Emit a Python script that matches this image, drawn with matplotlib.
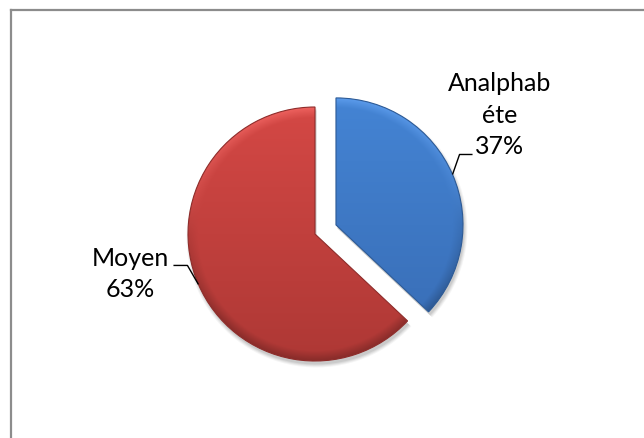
import numpy as np
import matplotlib
matplotlib.use('Agg')
import matplotlib.pyplot as plt
from matplotlib.lines import Line2D
from matplotlib.patches import Wedge

plt.rcParams['font.family'] = ['Lato', 'DejaVu Sans']

# data
labels = ['Analphab\néte', 'Moyen']
shares = [37, 63]
top_colors = ['#4484D4', '#D44845']
bottom_colors = ['#386CB4', '#AE3835']
edge_colors = ['#2C5A96', '#8E2C2A']

W, H = 644, 438


def hex_rgb(h):
    return np.array([int(h[i:i + 2], 16) for i in (1, 3, 5)]) / 255.0


def shade_wedge(ax, wedge, top, bottom):
    cx, cy = wedge.center
    r = wedge.r
    n = 300
    xs = np.linspace(cx - r, cx + r, n)
    ys = np.linspace(cy - r, cy + r, n)
    X, Y = np.meshgrid(xs, ys)
    t = (Y - (cy - r)) / (2 * r)
    c_top, c_bot = hex_rgb(top), hex_rgb(bottom)
    img = c_bot[None, None, :] * (1 - t[..., None]) + c_top[None, None, :] * t[..., None]
    # soft bevel near the rim
    d = np.hypot(X - cx, Y - cy) / r
    rim = np.clip((d - 0.92) / 0.08, 0, 1)[..., None]
    up = ((Y - cy) / r)[..., None]
    img = img * (1 - 0.22 * rim * np.clip(-up + 0.3, 0, 1)) + 0.10 * rim * np.clip(up, 0, 1)
    img = np.clip(img, 0, 1)
    im = ax.imshow(img, extent=[cx - r, cx + r, cy - r, cy + r], origin='lower',
                   zorder=2, interpolation='bilinear')
    im.set_clip_path(wedge)


fig = plt.figure(figsize=(W / 100, H / 100), dpi=100)
ax = fig.add_axes([0, 0, 1, 1])

center = (315, H - 234)
radius = 127
wedges, _ = ax.pie(shares, explode=[0.18 * radius, 0], startangle=90, counterclock=False,
                   center=center, radius=radius, colors=top_colors,
                   wedgeprops=dict(linewidth=0))

# soft shadow
for w in wedges:
    for k, a in enumerate([0.04, 0.05, 0.06, 0.07]):
        sh = Wedge((w.center[0] + 1.5, w.center[1] - 3.5), w.r + 3 - k,
                   w.theta1, w.theta2, facecolor='black', alpha=a,
                   linewidth=0, zorder=1)
        ax.add_patch(sh)

for w, tc, bc, ec in zip(wedges, top_colors, bottom_colors, edge_colors):
    shade_wedge(ax, w, tc, bc)
    w.set_facecolor('none')
    w.set_edgecolor(ec)
    w.set_linewidth(0.8)
    w.set_zorder(3)

# labels with leader lines
for i, w in enumerate(wedges):
    mid = np.deg2rad((w.theta1 + w.theta2) / 2)
    ex = w.center[0] + w.r * np.cos(mid)
    ey = w.center[1] + w.r * np.sin(mid)
    txt = f'{labels[i]}\n{shares[i]}%'
    if np.cos(mid) > 0:
        elbow = (ex + 7, ey + 20)
        end = (elbow[0] + 13, elbow[1])
        ax.text(500, elbow[1], txt, ha='center', va='baseline', fontsize=18,
                linespacing=1.45, zorder=4)
    else:
        elbow = (ex - 11, ey + 19)
        end = (elbow[0] - 14, elbow[1])
        ax.text(130, elbow[1] - 32, txt, ha='center', va='baseline', fontsize=18,
                linespacing=1.45, zorder=4)
    ax.plot([ex, elbow[0], end[0]], [ey, elbow[1], end[1]], color='black', lw=1.0,
            zorder=4, solid_capstyle='butt')

ax.set_xlim(0, W)
ax.set_ylim(0, H)
ax.set_aspect('equal')
ax.axis('off')

# chart area border (top and left visible)
fig.add_artist(Line2D([11 / W, 1], [1 - 10 / H, 1 - 10 / H], color='#8C8C8C', lw=1.6,
                      transform=fig.transFigure))
fig.add_artist(Line2D([11 / W, 11 / W], [0, 1 - 10 / H], color='#8C8C8C', lw=1.6,
                      transform=fig.transFigure))

fig.savefig('out.png', dpi=100, facecolor='white')
